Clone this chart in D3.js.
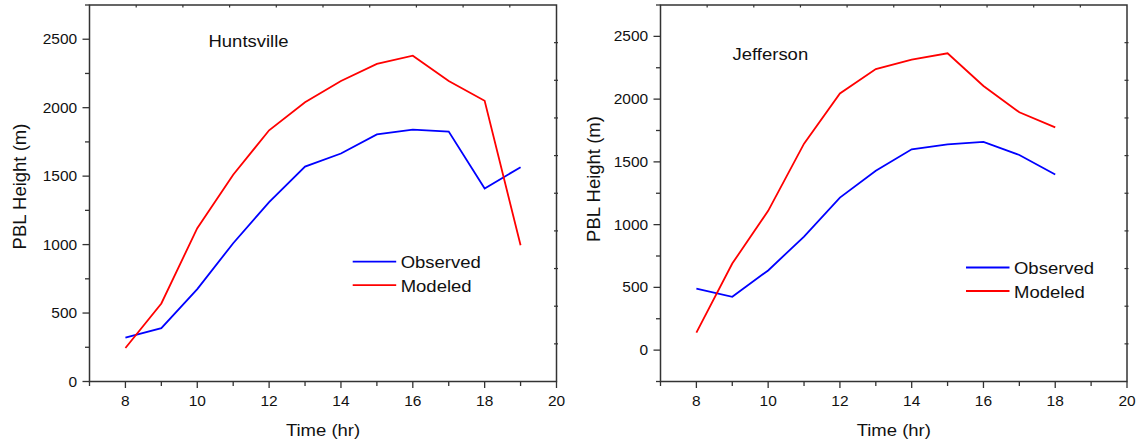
<!DOCTYPE html>
<html><head><meta charset="utf-8">
<script src="https://cdn.jsdelivr.net/npm/d3@7"></script>
<style>body{margin:0;background:#fff}svg{display:block}</style>
</head><body>
<svg id="c" width="1137" height="446"></svg>
<script>
const hours = [8,9,10,11,12,13,14,15,16,17,18,19];
const huntsvilleObserved = [320,390,675,1010,1310,1570,1665,1805,1840,1825,1410,1565];
const huntsvilleModeled  = [245,570,1120,1510,1835,2040,2195,2320,2380,2195,2050,995];
const jeffersonHours = [8,9,10,11,12,13,14,15,16,17,18];
const jeffersonObserved = [490,425,635,905,1215,1430,1600,1640,1660,1555,1400];
const jeffersonModeled  = [140,690,1110,1645,2045,2240,2315,2365,2105,1895,1775];
const xTickLabels = [8,10,12,14,16,18,20];
const yTickLabels = [0,500,1000,1500,2000,2500];
const seriesNames = ["Observed","Modeled"];
const seriesColors = ["#0000ff","#ff0000"];

const svg = d3.select("#c");
const FONT = "'Liberation Sans', Arial, Helvetica, sans-serif";
const AX = "#333";

function label(g, x, y, txt, anchor, size){
  g.append("text").attr("transform",`translate(${x},${y}) scale(1,0.9)`)
   .attr("text-anchor",anchor).attr("font-family",FONT).attr("font-size",size)
   .attr("fill","#111").text(txt);
}

function panel(cfg){
  const g = svg.append("g");
  const x = d3.scaleLinear().domain([7,20]).range(cfg.xr);
  const y = d3.scaleLinear().domain(cfg.yd).range([381.5,5]);
  const [x0,x1] = x.range(), [yb,yt] = y.range();

  // minor/major ticks bottom
  const allHours = d3.range(7,21);
  allHours.forEach(h=>{
    g.append("line").attr("x1",x(h)).attr("x2",x(h)).attr("y1",yb).attr("y2",yb+(h%2===0?6.5:4.5))
      .attr("stroke",AX).attr("stroke-width",1.3);
  });
  // left ticks
  const yMinor = d3.range(cfg.yd[0]+ (cfg.yd[0]%500===0?250:0), cfg.yd[1], 250);
  d3.range(Math.ceil(cfg.yd[0]/250)*250, cfg.yd[1]+1, 250).forEach(v=>{
    const major = v%500===0;
    g.append("line").attr("x1",x0).attr("x2",x0-(major?7:4.5)).attr("y1",y(v)).attr("y2",y(v))
      .attr("stroke",AX).attr("stroke-width",1.3);
  });
  // top & right mirror ticks (10 divisions)
  const xt = d3.scaleLinear().domain([0,10]).range([x0,x1]);
  const yt2 = d3.scaleLinear().domain([0,10]).range([yb,yt]);
  d3.range(1,10).forEach(i=>{
    g.append("line").attr("x1",xt(i)).attr("x2",xt(i)).attr("y1",yt).attr("y2",yt+2.5)
      .attr("stroke",AX).attr("stroke-width",1.2);
    g.append("line").attr("x1",x1-2.5).attr("x2",x1+1.5).attr("y1",yt2(i)).attr("y2",yt2(i))
      .attr("stroke",AX).attr("stroke-width",1.2);
  });
  // frame
  g.append("rect").attr("x",x0).attr("y",yt).attr("width",x1-x0).attr("height",yb-yt)
    .attr("fill","none").attr("stroke",AX).attr("stroke-width",1.5);

  // tick labels
  xTickLabels.forEach(v=>label(g, x(v), 406, v, "middle", 15.5));
  yTickLabels.forEach(v=>label(g, x0-12.3, y(v)+5, v, "end", 15.5));

  // axis titles
  label(g, (x0+x1)/2, 435.5, "Time (hr)", "middle", 18.5);
  g.append("text").attr("transform",`translate(${cfg.ytx},${cfg.yty}) rotate(-90)`)
    .attr("text-anchor","middle").attr("font-family",FONT).attr("font-size",18.5)
    .attr("fill","#111").text("PBL Height (m)");

  // station name
  label(g, cfg.namePos[0], cfg.namePos[1], cfg.name, "start", 18.5);

  // lines
  const line = d3.line().x(d=>x(d[0])).y(d=>y(d[1]));
  [cfg.obs, cfg.mod].forEach((vals,i)=>{
    g.append("path").datum(cfg.hrs.map((h,j)=>[h,vals[j]]))
      .attr("d",line).attr("fill","none").attr("stroke",seriesColors[i]).attr("stroke-width",1.8)
      .attr("stroke-linejoin","miter");
  });

  // legend
  seriesNames.forEach((n,i)=>{
    const ly = cfg.leg[1] + i*23.5;
    g.append("line").attr("x1",cfg.leg[0]).attr("x2",cfg.leg[0]+43.5).attr("y1",ly).attr("y2",ly)
      .attr("stroke",seriesColors[i]).attr("stroke-width",1.8);
    label(g, cfg.leg[0]+48, ly+6.6, n, "start", 18.5);
  });
}

panel({xr:[89.5,556.5], yd:[0,2750], hrs:hours, obs:huntsvilleObserved, mod:huntsvilleModeled,
  name:"Huntsville", namePos:[208.5,46.7], leg:[352.7,261.7], ytx:26, yty:186.5});
panel({xr:[660.5,1127], yd:[-250,2750], hrs:jeffersonHours, obs:jeffersonObserved, mod:jeffersonModeled,
  name:"Jefferson", namePos:[732.5,60], leg:[966,267.5], ytx:600, yty:179});
</script>
</body></html>
